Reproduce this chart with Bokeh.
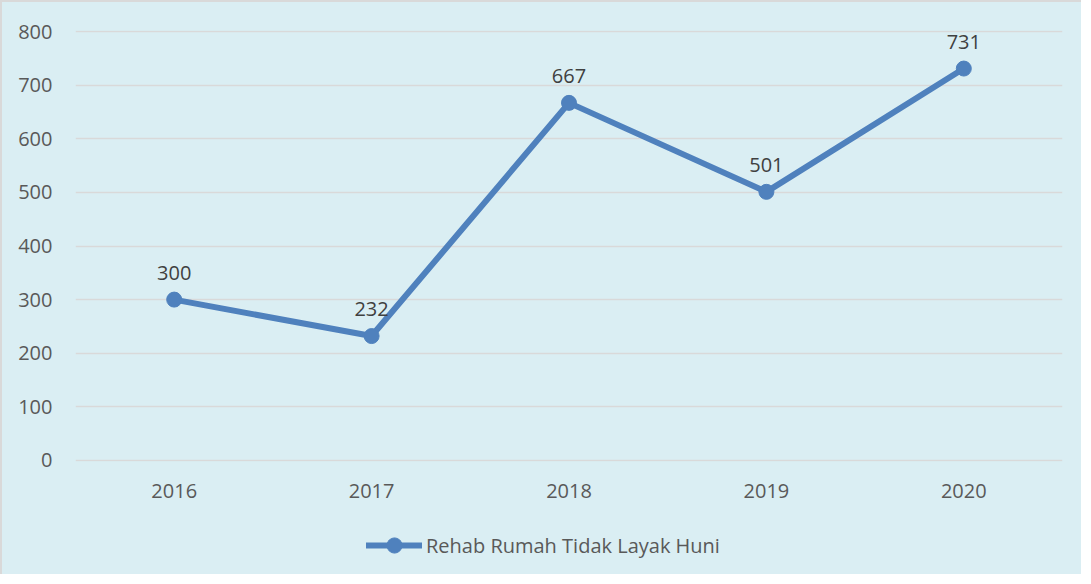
from bokeh.plotting import figure
from bokeh.layouts import column
from bokeh.models import ColumnDataSource, LabelSet, Legend, LegendItem, Range1d, FixedTicker
from bokeh.core.properties import value
from bokeh.embed import file_html
from bokeh.resources import INLINE

years = ["2016", "2017", "2018", "2019", "2020"]
values = [300, 232, 667, 501, 731]
series_name = "Rehab Rumah Tidak Layak Huni"
y_ticks = [0, 100, 200, 300, 400, 500, 600, 700, 800]

BG = "#DAEEF3"
LINE = "#4F81BD"
FONT = "Open Sans"
BORDER = "#D9D9D9"

src = ColumnDataSource(dict(x=years, y=values, lab=[str(v) for v in values]))

p = figure(x_range=years, y_range=Range1d(-2, 802), width=1081, height=512,
           output_backend="svg", toolbar_location=None,
           min_border_left=73, min_border_right=21, min_border_top=28, min_border_bottom=53)
p.background_fill_color = None
p.border_fill_color = None
p.outline_line_color = None
p.styles = {"border-left": f"2px solid {BORDER}", "border-top": f"2px solid {BORDER}",
            "background-color": BG}

p.xgrid.grid_line_color = None
p.ygrid.grid_line_color = BORDER
p.ygrid.grid_line_width = 1.5
p.yaxis.ticker = FixedTicker(ticks=y_ticks)

for ax in (p.xaxis[0], p.yaxis[0]):
    ax.axis_line_color = None
    ax.major_tick_line_color = None
    ax.minor_tick_line_color = None
    ax.major_label_text_font = FONT
    ax.major_label_text_font_size = "20px"
    ax.major_label_text_color = "#595959"
p.yaxis.major_label_standoff = 17
p.xaxis.major_label_standoff = 16

p.line("x", "y", source=src, line_color=LINE, line_width=6, line_cap="round")
p.scatter("x", "y", source=src, size=15, fill_color=LINE, line_color=LINE)

labels = LabelSet(x="x", y="y", text="lab", source=src, text_align="center",
                  text_baseline="bottom", y_offset=20, text_font=value(FONT),
                  text_font_size="20px", text_color="#404040")
p.add_layout(labels)

# legend strip below the chart (its sample glyph sits outside the visible range)
lg = figure(width=1081, height=62, x_range=Range1d(0, 1), y_range=Range1d(0, 1),
            x_axis_type=None, y_axis_type=None, output_backend="svg",
            toolbar_location=None, min_border_left=0, min_border_right=0,
            min_border_top=0, min_border_bottom=0)
lg.background_fill_color = None
lg.border_fill_color = None
lg.outline_line_color = None
lg.grid.grid_line_color = None
lg.styles = {"border-left": f"2px solid {BORDER}", "background-color": BG}
sample = ColumnDataSource(dict(x=[5], y=[5]))
lr = lg.line("x", "y", source=sample, line_color=LINE, line_width=6, line_cap="round")
sr = lg.scatter("x", "y", source=sample, size=15, fill_color=LINE, line_color=LINE)
legend = Legend(items=[LegendItem(label=series_name, renderers=[lr, sr])],
                location=(291, 10), orientation="horizontal",
                background_fill_alpha=0, border_line_color=None,
                label_text_font=FONT, label_text_font_size="20px",
                label_text_color="#595959", glyph_width=56, glyph_height=38,
                label_standoff=4, margin=0, padding=8)
lg.add_layout(legend)

layout = column(p, lg, spacing=0)
open("out.html", "w").write(file_html(layout, INLINE))
